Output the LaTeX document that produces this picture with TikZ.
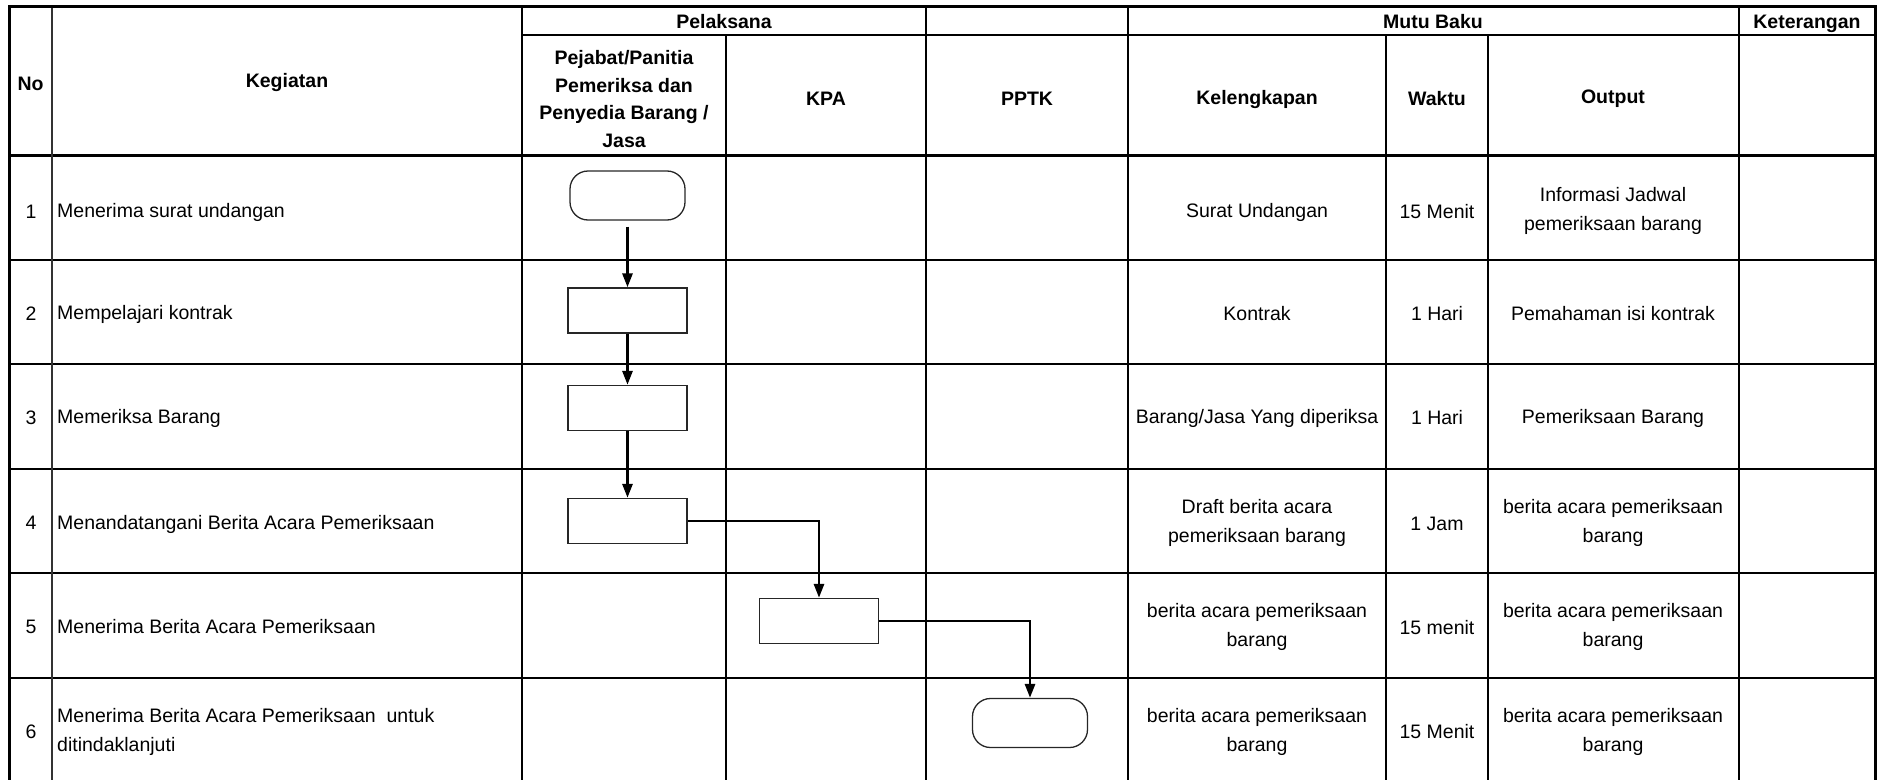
\documentclass[tikz,border=0pt]{standalone}
\usepackage{fontspec}
\setmainfont{Liberation Sans}
\usetikzlibrary{arrows.meta}
\begin{document}
\begin{tikzpicture}[x=1pt,y=-1pt,
  txt/.style={font=\fontsize{19.5}{28.5}\selectfont, align=center, inner sep=0pt},
  ltxt/.style={font=\fontsize{19.5}{29}\selectfont, align=left, inner sep=0pt, anchor=west},
  hdr/.style={font=\fontsize{19.5}{27.5}\selectfont\bfseries, align=center, inner sep=0pt},
  hdrtop/.style={font=\fontsize{19.5}{27.5}\selectfont\bfseries, inner sep=0pt, anchor=base},
  gridline/.style={line width=2pt},
  frameline/.style={line width=3pt},
  procbox/.style={draw=black!85, line width=1.3pt, minimum width=119pt, minimum height=45pt, inner sep=0pt},
  termbox/.style={draw=black!85, line width=1.3pt, rounded corners=18pt, minimum width=115pt, minimum height=49pt, inner sep=0pt},
  flow/.style={line width=2.8pt, -{Triangle[length=14pt,width=10pt]}}
]
\useasboundingbox (0,0) rectangle (1887,779);
% grid
\draw[gridline] (522,35) -- (1875,35);
\foreach \yy in {259.6,364.2,468.8,573.4,678} \draw[gridline] (9,\yy) -- (1875,\yy);
\draw[frameline] (9,155) -- (1875,155);
\draw[gridline, black!80] (52,6) -- (52,782);
\foreach \xx in {522,926,1128,1739} \draw[gridline] (\xx,6) -- (\xx,782);
\foreach \xx in {726,1386,1488} \draw[gridline] (\xx,35) -- (\xx,782);
\draw[frameline] (9,6) rectangle (1875,782);
% headers
\node[hdr] (hno) at (30.5,84) {No};
\node[hdr] (hkeg) at (287,83) {Kegiatan};
\node[hdrtop] (hpel) at (724,28) {Pelaksana};
\node[hdrtop] (hmutu) at (1433,28) {Mutu Baku};
\node[hdrtop] (hket) at (1807,28) {Keterangan};
\node[hdr] (hpej) at (624,99) {Pejabat/Panitia\\Pemeriksa dan\\Penyedia Barang /\\Jasa};
\node[hdr] (hkpa) at (826,99) {KPA};
\node[hdr] (hpptk) at (1027,99) {PPTK};
\node[hdr] (hkel) at (1257,99) {Kelengkapan};
\node[hdr] (hwak) at (1437,99) {Waktu};
\node[hdr] (hout) at (1613,99) {Output};
% numbers
\node[txt] (n1) at (31,212) {1};
\node[txt] (n2) at (31,314) {2};
\node[txt] (n3) at (31,418) {3};
\node[txt] (n4) at (31,523) {4};
\node[txt] (n5) at (31,627) {5};
\node[txt] (n6) at (31,732) {6};
% kegiatan
\node[ltxt] (k1) at (57,212) {Menerima surat undangan};
\node[ltxt] (k2) at (57,314) {Mempelajari kontrak};
\node[ltxt] (k3) at (57,418) {Memeriksa Barang};
\node[ltxt] (k4) at (57,524) {Menandatangani Berita Acara Pemeriksaan};
\node[ltxt] (k5) at (57,627) {Menerima Berita Acara Pemeriksaan};
\node[ltxt] (k6) at (57,732) {Menerima Berita Acara Pemeriksaan\ \ untuk\\ditindaklanjuti};
% kelengkapan
\node[txt] (l1) at (1257,212) {Surat Undangan};
\node[txt] (l2) at (1257,314) {Kontrak};
\node[txt] (l3) at (1257,418) {Barang/Jasa Yang diperiksa};
\node[txt] (l4) at (1257,523) {Draft berita acara\\pemeriksaan barang};
\node[txt] (l5) at (1257,627) {berita acara pemeriksaan\\barang};
\node[txt] (l6) at (1257,732) {berita acara pemeriksaan\\barang};
% waktu
\node[txt] (w1) at (1437,212) {15 Menit};
\node[txt] (w2) at (1437,314) {1 Hari};
\node[txt] (w3) at (1437,418) {1 Hari};
\node[txt] (w4) at (1437,524) {1 Jam};
\node[txt] (w5) at (1437,628) {15 menit};
\node[txt] (w6) at (1437,732) {15 Menit};
% output
\node[txt] (o1) at (1613,211) {Informasi Jadwal\\pemeriksaan barang};
\node[txt] (o2) at (1613,314) {Pemahaman isi kontrak};
\node[txt] (o3) at (1613,418) {Pemeriksaan Barang};
\node[txt] (o4) at (1613,523) {berita acara pemeriksaan\\barang};
\node[txt] (o5) at (1613,627) {berita acara pemeriksaan\\barang};
\node[txt] (o6) at (1613,732) {berita acara pemeriksaan\\barang};
% flow shapes
\node[termbox] (t1) at (627.5,195.5) {};
\node[procbox] (b2) at (627.5,310.5) {};
\node[procbox] (b3) at (627.5,408) {};
\node[procbox] (b4) at (627.5,521) {};
\node[procbox] (b5) at (819,621) {};
\node[termbox] (t6) at (1030,723) {};
% connectors
\draw[flow, shorten <=6pt] (t1.south) -- (b2.north);
\draw[flow] (b2.south) -- (b3.north);
\draw[flow] (b3.south) -- (b4.north);
\draw[flow] (b4.east) -| (b5.north);
\draw[flow] (b5.east) -| (t6.north);
\end{tikzpicture}
\end{document}
